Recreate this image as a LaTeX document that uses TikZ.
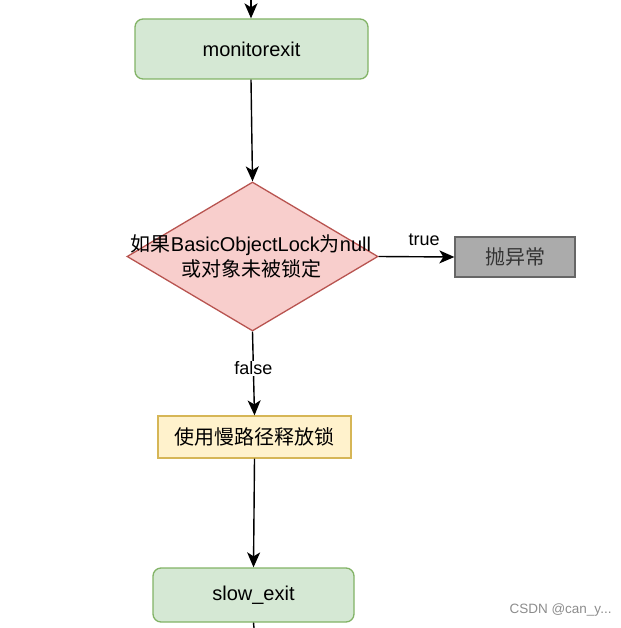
\documentclass[tikz,border=0pt]{standalone}
\usepackage{fontspec}
\setmainfont{Liberation Sans}
\newfontfamily\cjk{Noto Sans CJK SC}
\usetikzlibrary{shapes.geometric,arrows.meta}
\definecolor{gfill}{HTML}{D5E8D4}
\definecolor{gline}{HTML}{82B366}
\definecolor{rfill}{HTML}{F8CECC}
\definecolor{rline}{HTML}{B85450}
\definecolor{yfill}{HTML}{FFF2CC}
\definecolor{yline}{HTML}{D6B656}
\definecolor{kfill}{HTML}{ABABAB}
\definecolor{kline}{HTML}{666666}
\definecolor{ktext}{HTML}{333333}
\tikzset{
  base/.style={font=\fontsize{20}{25}\selectfont, inner sep=0pt, line width=1.3pt},
  roundbox/.style={base, rectangle, rounded corners=8pt, draw=gline, fill=gfill},
  yellowbox/.style={base, rectangle, draw=yline, fill=yfill},
  graybox/.style={base, rectangle, draw=kline, fill=kfill, text=ktext},
  decision/.style={base, diamond, draw=rline, fill=rfill, minimum width=251pt, minimum height=149pt},
  conn/.style={line width=1.4pt, -{Stealth[length=15pt,width=13pt,inset=4pt]}},
  plain/.style={line width=1.4pt},
  lab/.style={font=\fontsize{18}{22}\selectfont, inner sep=1pt, fill=white}
}
\begin{document}
\begin{tikzpicture}[x=1pt,y=-1pt]
\useasboundingbox (0,0) rectangle (620,628);
\coordinate (top) at (251,0);
\coordinate (bot) at (254,628);
\node[roundbox, minimum width=233pt, minimum height=60pt] (mon) at (251.5,49) {monitorexit};
\node[decision] (dec) at (252.5,256.5) {};
\node[base, align=center] (dtext) at (251,256) {{\cjk 如果}BasicObjectLock{\cjk 为}null\\{\cjk 或对象未被锁定}};
\node[graybox, minimum width=120pt, minimum height=40pt] (exc) at (515,257) {\cjk 抛异常};
\node[yellowbox, minimum width=193pt, minimum height=42pt] (slow) at (254.5,437) {\cjk 使用慢路径释放锁};
\node[roundbox, minimum width=201pt, minimum height=54pt] (sexit) at (253.5,595) {slow\_exit};
\draw[conn] (top) -- (mon.north -| top);
\draw[conn] (mon.south -| top) -- (dec.north);
\draw[conn] (dec.east) -- node[lab, fill=none, above=9pt, pos=0.6] (tl) {true} (exc.west);
\draw[conn] (dec.south) -- node[lab, pos=0.44] (fl) {false} (slow.north);
\draw[conn] (slow.south) -- (sexit.north);
\draw[plain] (sexit.south) -- (bot);
\node[font=\fontsize{13.5}{15}\selectfont, text=black!45, anchor=west] (wm) at (506,610) {CSDN @can\_y...};
\end{tikzpicture}
\end{document}
